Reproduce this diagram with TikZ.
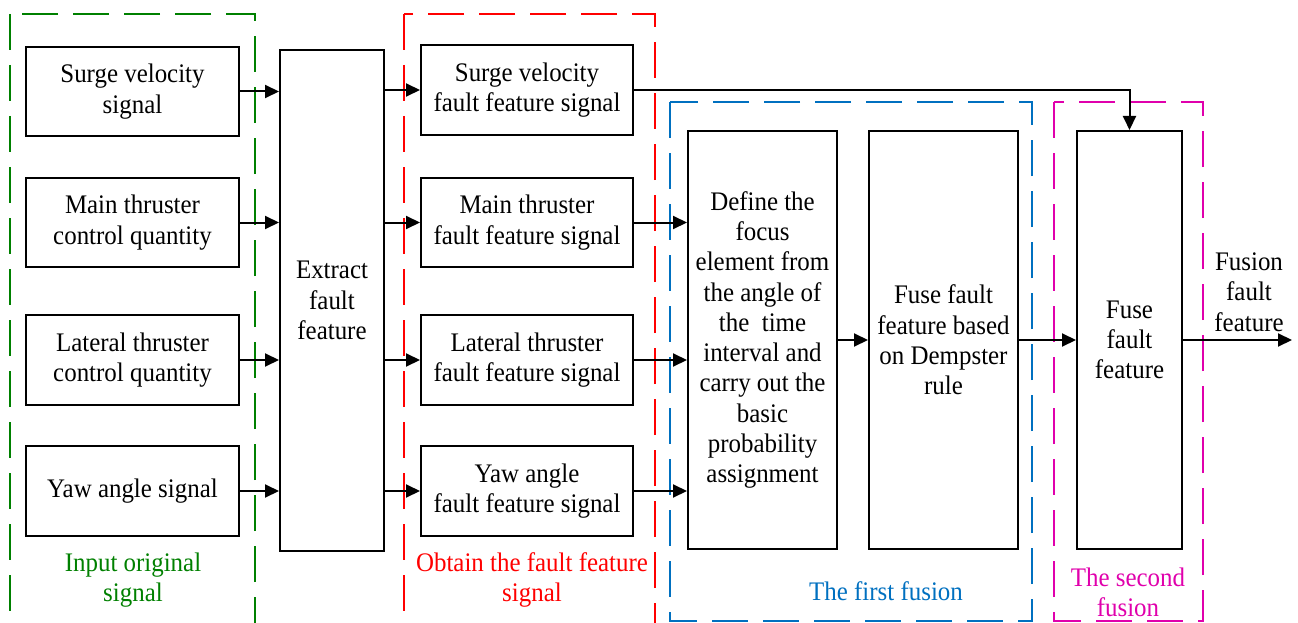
\documentclass[tikz,border=0pt]{standalone}
\usepackage{fontspec}
\setmainfont{Liberation Serif}
\newfontfamily\tnr[FakeStretch=0.93]{Liberation Serif}
\usetikzlibrary{arrows.meta}
\definecolor{cgreen}{RGB}{0,128,0}
\definecolor{cred}{RGB}{255,0,0}
\definecolor{cblue}{RGB}{0,112,192}
\definecolor{cmag}{RGB}{224,0,172}
\tikzset{
  txt/.style={font=\tnr\fontsize{26.8}{30.3}\selectfont, align=center, inner sep=0pt},
  blk/.style={txt, draw=black, line width=2pt},
  grp/.style={line width=2pt, dash pattern=on 36pt off 15pt},
  arr/.style={line width=2pt, -{Triangle[length=14pt,width=13pt]}},
}
\begin{document}
\begin{tikzpicture}[x=1pt,y=-1pt]
\useasboundingbox (0,0) rectangle (1298,623);
\clip (0,0) rectangle (1298,623);
% group frames
\draw[grp, cgreen] (10,14) rectangle (255,660);
\draw[grp, cred] (404,14) rectangle (655,660);
\draw[grp, cblue] (670,102) rectangle (1032,621);
\draw[grp, cmag] (1054,102) rectangle (1203,621);
% left column
\node[blk, minimum width=213pt, minimum height=89pt] (l1) at (132.5,91.5) {Surge velocity\\signal};
\node[blk, minimum width=213pt, minimum height=89pt] (l2) at (132.5,222.5) {Main thruster\\control quantity};
\node[blk, minimum width=213pt, minimum height=90pt] (l3) at (132.5,360) {Lateral thruster\\control quantity};
\node[blk, minimum width=213pt, minimum height=90pt] (l4) at (132.5,491) {Yaw angle signal};
% extract
\node[blk, minimum width=104pt, minimum height=501pt] (ext) at (332,300.5) {Extract\\fault\\feature};
% middle column
\node[blk, minimum width=212pt, minimum height=90pt] (m1) at (527,90) {Surge velocity\\fault feature signal};
\node[blk, minimum width=212pt, minimum height=89pt] (m2) at (527,222.5) {Main thruster\\fault feature signal};
\node[blk, minimum width=212pt, minimum height=90pt] (m3) at (527,360) {Lateral thruster\\fault feature signal};
\node[blk, minimum width=212pt, minimum height=90pt] (m4) at (527,491) {Yaw angle\\fault feature signal};
% fusion blocks
\node[blk, minimum width=149pt, minimum height=418pt] (def) at (762.5,340) {Define the\\focus\\element from\\the angle of\\the~ time\\interval and\\carry out the\\basic\\probability\\assignment};
\node[blk, minimum width=149pt, minimum height=418pt] (dem) at (943.5,340) {Fuse fault\\feature based\\on Dempster\\rule};
\node[blk, minimum width=105pt, minimum height=418pt] (fus) at (1129.5,340) {Fuse\\fault\\feature};
\coordinate (out) at (1292,340);
\node[txt] (outl) at (1249,292) {Fusion\\fault\\feature};
% group labels
\node[txt, text=cgreen] (gl1) at (133,580) {Input original\\signal};
\node[txt, text=cred] (gl2) at (532,580) {Obtain the fault feature\\signal};
\node[txt, text=cblue] (gl3) at (886,591) {The first fusion};
\node[txt, text=cmag] (gl4) at (1128,592) {The second\\fusion};
% connectors
\foreach \i in {1,2,3,4}{
  \draw[arr] (l\i.east) -- (l\i.east -| ext.west);
  \draw[arr] (ext.east |- m\i.west) -- (m\i.west);
}
\foreach \i in {2,3,4}{
  \draw[arr] (m\i.east) -- (m\i.east -| def.west);
}
\draw[arr] (m1.east) -| (fus.north);
\draw[arr] (def.east) -- (dem.west);
\draw[arr] (dem.east) -- (fus.west);
\draw[arr] (fus.east) -- (out);
\end{tikzpicture}
\end{document}
